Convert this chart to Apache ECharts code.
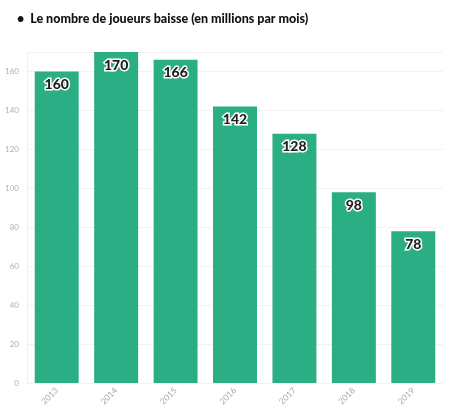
<!DOCTYPE html>
<html>
<head>
<meta charset="utf-8">
<title>Joueurs</title>
<script src="https://cdn.jsdelivr.net/npm/echarts@6/dist/echarts.min.js"></script>
<style>
  html, body { margin: 0; padding: 0; background: #fff; }
  #chart { width: 450px; height: 420px; }
</style>
</head>
<body>
<div id="chart"></div>
<script>
// data
var years = ['2013', '2014', '2015', '2016', '2017', '2018', '2019'];
var players = [160, 170, 166, 142, 128, 98, 78];
var yTicks = [0, 20, 40, 60, 80, 100, 120, 140, 160];

var chart = echarts.init(document.getElementById('chart'));
var option = {
    animation: false,
    title: {
        text: '•  Le nombre de joueurs baisse (en millions par mois)',
        left: 12,
        top: 7,
        textStyle: {
            fontFamily: 'Lato',
            fontWeight: 900,
            fontSize: 12.5,
            color: '#111'
        }
    },
    grid: {
        left: 27,
        right: 7,
        top: 52,
        bottom: 37,
        outerBoundsMode: 'none'
    },
    xAxis: {
        type: 'category',
        data: years,
        axisLine: { show: false },
        axisTick: { show: false },
        axisLabel: {
            interval: 0,
            rotate: 45,
            fontSize: 8.5,
            color: '#aaaaaa',
            fontFamily: 'Lato',
            margin: 6
        }
    },
    yAxis: {
        type: 'value',
        min: 0,
        max: 170,
        interval: 20,
        axisLine: { show: true, lineStyle: { color: '#f0f0f0' } },
        axisTick: { show: false },
        splitLine: { lineStyle: { color: '#f2f2f2' } },
        axisLabel: {
            fontSize: 8,
            color: '#b0b0b0',
            fontFamily: 'Lato',
            margin: 8,
            showMaxLabel: false,
            formatter: function (v) { return yTicks.indexOf(v) >= 0 ? String(v) : ''; }
        }
    },
    series: [{
        type: 'bar',
        data: players,
        barCategoryGap: '26%',
        itemStyle: { color: '#2bae84' },
        label: {
            show: true,
            position: 'insideTop',
            distance: 6,
            fontFamily: 'Lato',
            fontWeight: 900,
            fontSize: 14,
            color: '#222',
            textBorderColor: '#fff',
            textBorderWidth: 3
        }
    }]
};
chart.setOption(option);
</script>
</body>
</html>
